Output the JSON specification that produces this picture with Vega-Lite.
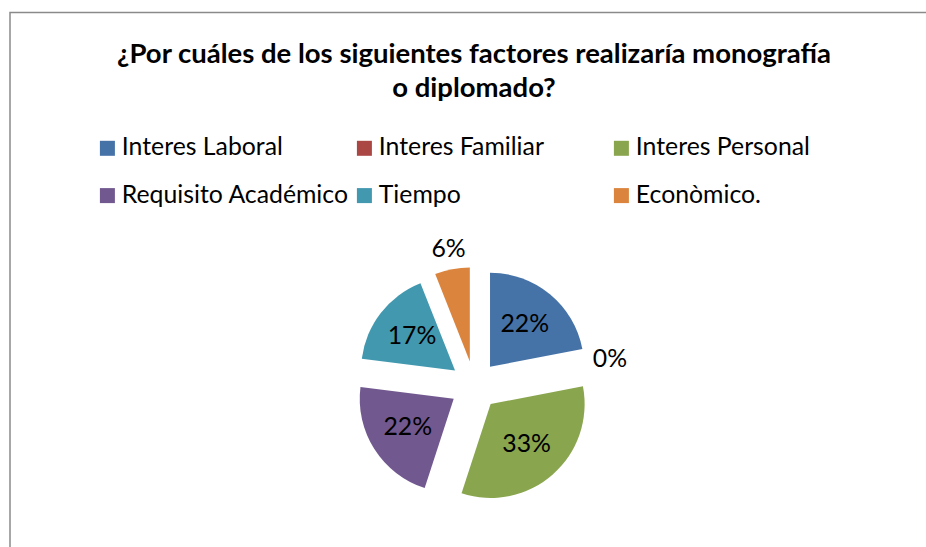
{
  "$schema": "https://vega.github.io/schema/vega-lite/v6.json",
  "width": 916,
  "height": 534.5,
  "autosize": {"type": "none"},
  "padding": {"left": 10, "top": 12.5, "right": 0, "bottom": 0},
  "background": "white",
  "config": {
    "view": {"stroke": null},
    "font": "Lato"
  },
  "title": {
    "text": ["¿Por cuáles de los siguientes factores realizaría monografía", "o diplomado?"],
    "anchor": "middle",
    "frame": "group",
    "font": "Lato",
    "fontSize": 27.5,
    "fontWeight": "bold",
    "color": "#000000",
    "lineHeight": 34,
    "offset": -91,
    "dx": 6
  },
  "data": {
    "values": [
      {"orden": 1, "factor": "Interes Laboral", "value": 0.22},
      {"orden": 2, "factor": "Interes Familiar", "value": 0.0},
      {"orden": 3, "factor": "Interes Personal", "value": 0.33},
      {"orden": 4, "factor": "Requisito Académico", "value": 0.22},
      {"orden": 5, "factor": "Tiempo", "value": 0.17},
      {"orden": 6, "factor": "Econòmico.", "value": 0.06}
    ]
  },
  "layer": [
    {
      "transform": [{"aggregate": [{"op": "count", "as": "n"}]}],
      "mark": {
        "type": "rect",
        "fill": null,
        "stroke": "#8a8a8a",
        "strokeWidth": 1.5
      },
      "encoding": {
        "x": {"value": 0},
        "x2": {"value": {"expr": "width + 40"}},
        "y": {"value": 0},
        "y2": {"value": {"expr": "height + 40"}}
      }
    },
    {
      "mark": {
        "type": "arc",
        "outerRadius": 94,
        "x": {"expr": "width*0.507 + 24.5*sin(PI*(datum.value_start+datum.value_end))"},
        "y": {"expr": "height*0.698 - 24.5*cos(PI*(datum.value_start+datum.value_end))"}
      },
      "encoding": {
        "theta": {"field": "value", "type": "quantitative", "stack": true},
        "order": {"field": "orden", "type": "quantitative", "sort": "ascending"},
        "color": {
          "field": "factor",
          "type": "nominal",
          "sort": ["Interes Laboral", "Interes Familiar", "Interes Personal", "Requisito Académico", "Tiempo", "Econòmico."],
          "scale": {
            "domain": ["Interes Laboral", "Interes Familiar", "Interes Personal", "Requisito Académico", "Tiempo", "Econòmico."],
            "range": ["#4572A7", "#AA4643", "#89A54E", "#71588F", "#4198AF", "#DB843D"]
          },
          "legend": {
            "title": null,
            "orient": "none",
            "direction": "horizontal",
            "legendX": 85,
            "legendY": 123,
            "columns": 3,
            "gridAlign": "all",
            "columnPadding": 3,
            "rowPadding": 21.7,
            "padding": 0,
            "symbolType": "square",
            "symbolSize": 225,
            "symbolStrokeWidth": 0,
            "symbolOffset": 0,
            "labelOffset": 2,
            "labelFont": "Lato",
            "labelFontSize": 24.8,
            "labelColor": "#000000",
            "labelLimit": 400
          }
        }
      }
    },
    {
      "mark": {
        "type": "text",
        "font": "Lato",
        "fontSize": 24.8,
        "color": "#000000",
        "x": {"expr": "width*0.507"},
        "y": {"expr": "height*0.698"},
        "radius": {"expr": "datum.value < 0.1 ? 138 : 79"}
      },
      "encoding": {
        "theta": {"field": "value", "type": "quantitative", "stack": true},
        "order": {"field": "orden", "type": "quantitative", "sort": "ascending"},
        "text": {"field": "value", "type": "quantitative", "format": ".0%"}
      }
    }
  ]
}
